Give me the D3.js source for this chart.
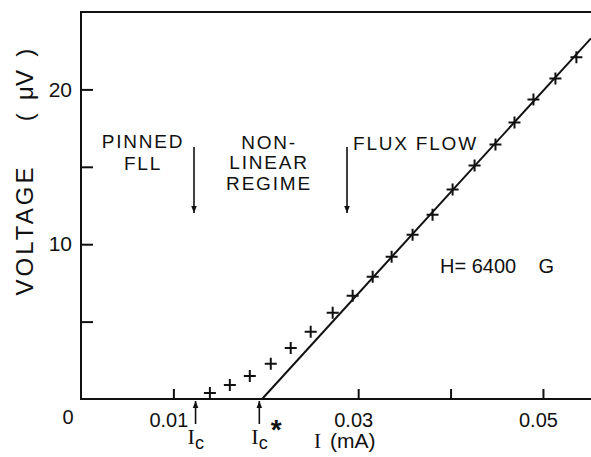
<!DOCTYPE html>
<html>
<head>
<meta charset="utf-8">
<script src="https://cdn.jsdelivr.net/npm/d3@7"></script>
<style>
  body { margin: 0; background: #fff; }
  svg { display: block; }
  text { font-family: "Liberation Sans", "DejaVu Sans", sans-serif; fill: #111; }
  .axis path, .axis line { stroke: #111; stroke-width: 2; }
  .serif { font-family: "Liberation Serif", "DejaVu Serif", serif; }
</style>
</head>
<body>
<svg width="591" height="457"></svg>
<script>
// measured I (mA) and V (uV)
const current = [0.01395, 0.01611, 0.01827, 0.02054, 0.0227, 0.02486, 0.02724, 0.0294, 0.03157,
  0.03362, 0.03589, 0.03805, 0.04022, 0.0426, 0.04486, 0.04692, 0.04897, 0.05135, 0.05362];
const voltage = [0.39, 0.91, 1.49, 2.27, 3.30, 4.34, 5.57, 6.67, 7.90,
  9.19, 10.61, 11.91, 13.53, 15.08, 16.44, 17.86, 19.35, 20.71, 22.07];

// linear flux-flow fit
const fitI = [0.0196, 0.0552];
const fitV = [0, 23.3];

const xTicks = [0.01, 0.03, 0.04, 0.05];
const xTickLabels = ['0.01', '0.03', '', '0.05'];
const yTicks = [5, 10, 15, 20];
const yTickLabels = ['', '10', '', '20'];

const Ic = 0.0124;
const IcStar = 0.0193;

const svg = d3.select('svg');
const width = 591;

const x = d3.scaleLinear().domain([0, 0.0552]).range([81, 591]);
const y = d3.scaleLinear().domain([0, 25]).range([399, 12]);

// frame: left, top, bottom
svg.append('path')
    .attr('d', `M${width},${y(25)}H${x(0)}V${y(0)}H${width}`)
    .attr('fill', 'none')
    .attr('stroke', '#111')
    .attr('stroke-width', 2);

const xAxis = svg.append('g')
    .attr('class', 'axis')
    .attr('transform', `translate(0,${y(0)})`)
    .call(d3.axisBottom(x).tickValues(xTicks).tickSize(-10).tickPadding(14)
        .tickFormat((d, i) => xTickLabels[i]));
xAxis.select('.domain').remove();
xAxis.selectAll('text')
    .attr('font-size', 20)
    .attr('dx', -5)
    .attr('font-family', '"Liberation Sans", sans-serif');

const yAxis = svg.append('g')
    .attr('class', 'axis')
    .attr('transform', `translate(${x(0)},0)`)
    .call(d3.axisLeft(y).tickValues(yTicks).tickSize(-12).tickPadding(9)
        .tickFormat((d, i) => yTickLabels[i]));
yAxis.select('.domain').remove();
yAxis.selectAll('text')
    .attr('font-size', 21)
    .attr('font-family', '"Liberation Sans", sans-serif');

svg.append('text')
    .attr('x', x(0) - 13)
    .attr('y', y(0) + 25)
    .attr('text-anchor', 'middle')
    .attr('font-size', 20)
    .text('0');

// fit line
const fit = fitI.map((d, i) => ({i: d, v: fitV[i]}));
svg.append('path')
    .datum(fit)
    .attr('d', d3.line().x(d => x(d.i)).y(d => y(d.v)))
    .attr('stroke', '#111')
    .attr('stroke-width', 2)
    .attr('fill', 'none');

// data crosses
const pts = current.map((d, i) => ({i: d, v: voltage[i]}));
svg.selectAll('.pt').data(pts)
    .enter().append('path')
    .attr('class', 'pt')
    .attr('d', d => `M${x(d.i) - 6},${y(d.v)}h12M${x(d.i)},${y(d.v) - 6}v12`)
    .attr('stroke', '#111')
    .attr('stroke-width', 2);

// arrows
svg.append('defs').append('marker')
    .attr('id', 'ah')
    .attr('viewBox', '0 0 10 10')
    .attr('refX', 10).attr('refY', 5)
    .attr('markerWidth', 7).attr('markerHeight', 9)
    .attr('markerUnits', 'userSpaceOnUse')
    .attr('orient', 'auto')
    .append('path').attr('d', 'M0,1L10,5L0,9Z').attr('fill', '#111');

function arrow(x1, y1, x2, y2) {
  svg.append('line')
      .attr('x1', x1).attr('y1', y1).attr('x2', x2).attr('y2', y2)
      .attr('stroke', '#111').attr('stroke-width', 1.6)
      .attr('marker-end', 'url(#ah)');
}
arrow(194, 147, 194, 213);
arrow(347, 147, 347, 213);
arrow(x(Ic), 424, x(Ic), 401);
arrow(x(IcStar), 424, x(IcStar), 401);

// region labels
function label(tx, ty, str, anchor) {
  svg.append('text')
      .attr('x', tx).attr('y', ty)
      .attr('text-anchor', anchor || 'middle')
      .attr('font-size', 19)
      .attr('letter-spacing', 1.8)
      .text(str);
}
label(143, 148, 'PINNED');
label(143, 170, 'FLL');
label(269, 149, 'NON-');
label(269, 169, 'LINEAR');
label(269, 190, 'REGIME');
label(353, 150, 'FLUX FLOW', 'start');
svg.append('text')
    .attr('x', 440).attr('y', 273)
    .attr('font-size', 20)
    .attr('xml:space', 'preserve')
    .style('white-space', 'pre')
    .text('H= 6400    G');

// Ic labels
function icLabel(cx, star) {
  const t = svg.append('text')
      .attr('x', cx - 8).attr('y', 444)
      .attr('font-size', 22);
  t.append('tspan').attr('class', 'serif').text('I');
  t.append('tspan').attr('font-size', 18).attr('dy', 5).text('c');
  if (star) t.append('tspan').attr('font-size', 28).attr('font-weight', 'bold')
      .attr('dy', -10).attr('dx', 3).text('*');
}
icLabel(x(Ic), false);
icLabel(x(IcStar), true);

const xl = svg.append('text')
    .attr('x', 314).attr('y', 448)
    .attr('font-size', 21);
xl.append('tspan').attr('class', 'serif').text('I');
xl.append('tspan').attr('dx', 9).text('(mA)');

// y label
svg.append('text')
    .attr('transform', 'translate(33,230) rotate(-90)')
    .attr('font-size', 24)
    .attr('letter-spacing', 3)
    .attr('text-anchor', 'middle')
    .text('VOLTAGE');
svg.append('text')
    .attr('transform', 'translate(33,85) rotate(-90)')
    .attr('font-size', 24)
    .attr('text-anchor', 'middle')
    .attr('xml:space', 'preserve')
    .style('white-space', 'pre')
    .text('(  \u03bcV  )');
</script>
</body>
</html>
